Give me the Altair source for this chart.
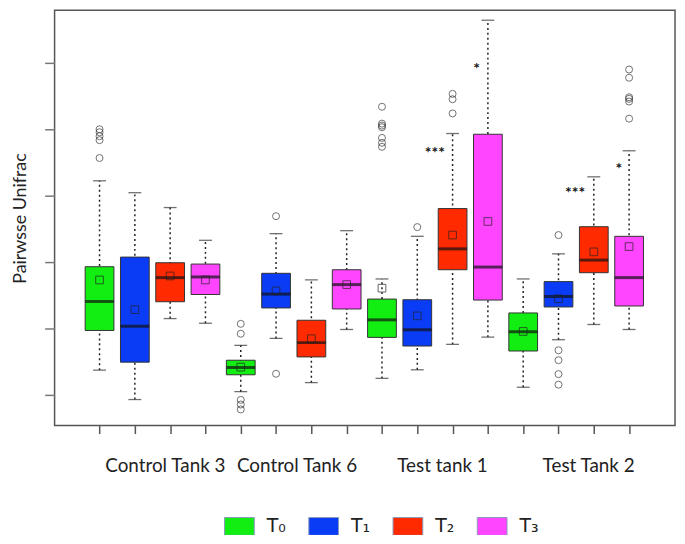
import altair as alt
import pandas as pd

groups = ["Control Tank 3", "Control Tank 6", "Test tank 1", "Test Tank 2"]
times = ["T₀", "T₁", "T₂", "T₃"]
colors = ["#12EE12", "#0B3CF5", "#FF2A00", "#FF45FF"]

lower  = [0.2373, 0.1930, 0.3149, 0.3079, 0.2049, 0.2851, 0.2184, 0.2985,
          0.2249, 0.2378, 0.2761, 0.2870, 0.2115, 0.2831, 0.3060, 0.2985]
q1     = [0.2970, 0.2493, 0.3403, 0.3512, 0.2303, 0.3309, 0.2572, 0.3294,
          0.2866, 0.2736, 0.3885, 0.3428, 0.2661, 0.3324, 0.3840, 0.3339]
median = [0.3407, 0.3034, 0.3766, 0.3776, 0.2413, 0.3518, 0.2787, 0.3661,
          0.3130, 0.2981, 0.4199, 0.3925, 0.2951, 0.3482, 0.4030, 0.3766]
q3     = [0.3930, 0.4075, 0.3990, 0.3970, 0.2522, 0.3831, 0.3124, 0.3885,
          0.3443, 0.3433, 0.4806, 0.5925, 0.3234, 0.3706, 0.4533, 0.4388]
upper  = [0.5224, 0.5045, 0.4821, 0.4328, 0.2746, 0.4428, 0.3731, 0.4473,
          0.3746, 0.4388, 0.5936, 0.7642, 0.3746, 0.4124, 0.5284, 0.5676]
means  = [0.3731, 0.3284, 0.3791, 0.3731, 0.2418, 0.3567, 0.2846, 0.3661,
          0.3607, 0.3190, 0.4407, 0.4612, 0.2955, 0.3448, 0.4154, 0.4234]
outliers = [
    [0.6000, 0.5955, 0.5896, 0.5836, 0.5567],
    [], [], [],
    [0.3070, 0.2921, 0.1925, 0.1855, 0.1781],
    [0.4691, 0.2318],
    [], [],
    [0.6339, 0.6085, 0.6055, 0.6030, 0.5870, 0.5796, 0.5736],
    [0.4527],
    [0.6533, 0.6452, 0.6239],
    [],
    [],
    [0.4407, 0.2672, 0.2522, 0.2313, 0.2154],
    [],
    [0.6900, 0.6776, 0.6482, 0.6458, 0.6418, 0.6160],
]
star_pos = [10.50, 11.68, 14.47, 15.71]
star_val = [0.5687, 0.6950, 0.5085, 0.5452]
star_text = ["***", "*", "***", "*"]
y_ticks = [0.2, 0.3, 0.4, 0.5, 0.6, 0.7]
group_label_pos = [2.85, 6.58, 10.70, 14.84]

rows = []
for i in range(16):
    rows.append({
        "pos": i + 1, "group": groups[i // 4], "time": times[i % 4],
        "lower": lower[i], "q1": q1[i], "median": median[i],
        "q3": q3[i], "upper": upper[i], "mean": means[i],
    })
df = pd.DataFrame(rows)
out_df = pd.DataFrame([{"pos": i + 1, "val": v} for i, lst in enumerate(outliers) for v in lst])
star_df = pd.DataFrame({"pos": star_pos, "val": star_val, "txt": star_text})

FONT = "Lato"
xs = alt.Scale(domain=[-0.133, 17.16], nice=False, zero=False)
ys = alt.Scale(domain=[0.15373, 0.7791], nice=False, zero=False)

expr = " : ".join(
    f"datum.value == {p} ? '{g}'" for p, g in zip(group_label_pos, groups)
) + " : ''"

xaxis = alt.Axis(
    values=list(range(1, 17)) + group_label_pos, title=None, domain=False, grid=False,
    tickSize=8, tickColor="#555", tickWidth=1.5,
    tickOpacity={"condition": {"test": "datum.value % 1 === 0", "value": 1}, "value": 0},
    labelExpr=expr, labelFont=FONT, labelFontSize=19, labelColor="#222",
    labelPadding=23, labelOverlap=False, labelFlush=False,
)
yaxis = alt.Axis(
    values=y_ticks, labels=False, domain=False, grid=False, tickSize=10,
    tickColor="#777", tickWidth=1.5, title="Pairwsse Unifrac", titleFont=FONT,
    titleFontSize=18, titleFontWeight="normal", titleColor="#222", titlePadding=15,
)

X = alt.X("pos:Q", scale=xs, axis=xaxis)

def Y(field):
    return alt.Y(f"{field}:Q", scale=ys, axis=yaxis)

base = alt.Chart(df)

whisk = base.mark_rule(color="#222", strokeWidth=1.5, strokeDash=[2, 3]).encode(
    x=X, y=Y("lower"), y2="upper")
cap_hi = base.mark_tick(orient="horizontal", size=13, thickness=1.3, color="#333").encode(
    x=X, y=Y("upper"))
cap_lo = base.mark_tick(orient="horizontal", size=13, thickness=1.3, color="#333").encode(
    x=X, y=Y("lower"))
box = base.mark_bar(size=29, stroke="#333", strokeWidth=1).encode(
    x=X, y=Y("q1"), y2="q3",
    color=alt.Color("time:N", scale=alt.Scale(domain=times, range=colors),
                    legend=alt.Legend(
                        orient="none", legendX=171, legendY=505, direction="horizontal",
                        columns=4, title=None, padding=0,
                        symbolType="M-1,-0.6H1V0.6H-1Z", symbolSize=900,
                        symbolStrokeColor="#8899BB", symbolStrokeWidth=1,
                        symbolOpacity=1, labelFont="DejaVu Sans", labelFontSize=19,
                        labelColor="#222", labelOffset=12, columnPadding=20)))
med = base.mark_tick(orient="horizontal", size=29, thickness=3, color="#111").encode(
    x=X, y=Y("median"))
mean_pt = base.mark_point(shape="square", filled=False, size=60, color="#222",
                          strokeWidth=1).encode(x=X, y=Y("mean"))
outl = alt.Chart(out_df).mark_point(shape="circle", filled=False, size=50, color="#222",
                                    strokeWidth=0.9).encode(x=X, y=Y("val"))
stars = alt.Chart(star_df).mark_text(font=FONT, fontSize=16, fontWeight="bold",
                                     baseline="alphabetic", dy=8, color="#111").encode(
    x=X, y=Y("val"), text="txt:N")

chart = alt.layer(whisk, cap_hi, cap_lo, box, med, mean_pt, outl, stars).properties(
    width=626, height=419,
    autosize=alt.AutoSizeParams(type="none"),
    padding={"left": 47, "top": 0, "right": 2, "bottom": 108},
).configure_view(stroke="#555", strokeWidth=1.5)

chart.save("out.html", embed_options={"renderer": "svg", "actions": False})
